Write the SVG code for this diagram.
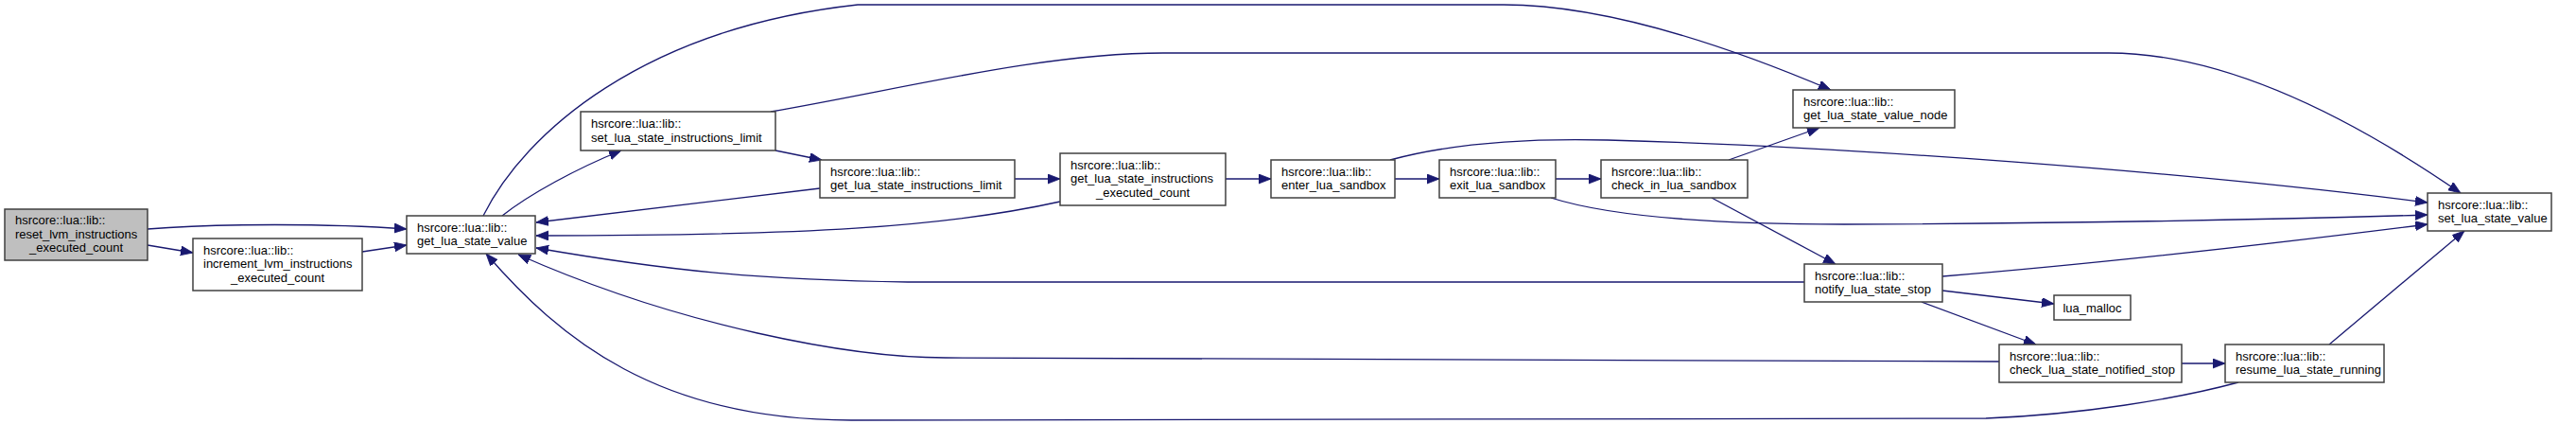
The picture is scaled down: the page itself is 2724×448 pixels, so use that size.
<svg xmlns="http://www.w3.org/2000/svg" width="2724" height="448" viewBox="0 0 2724 448">
<style>
.n{fill:#ffffff;stroke:#404040;stroke-width:1.5}
.g{fill:#bfbfbf}
.t{font-family:"Liberation Sans",Arial,sans-serif;font-size:13px;fill:#000000}
.m{text-anchor:middle}
.e{fill:none;stroke:#191970;stroke-width:1.3}
</style>
<defs>
<marker id="a" markerUnits="userSpaceOnUse" markerWidth="14" markerHeight="11" refX="13" refY="5" orient="auto">
<path d="M0,0 L13,5 L0,10 Z" fill="#191970" stroke="#191970" stroke-width="0.8"/>
</marker>
</defs>
<rect width="2724" height="448" fill="#ffffff"/>
<g id="connectors">
<path class="e" marker-end="url(#a)" d="M156,242 C230,236 350,236 430,242"/>
<path class="e" marker-end="url(#a)" d="M156,259 L204,267"/>
<path class="e" marker-end="url(#a)" d="M383,266 L430,259"/>
<path class="e" marker-end="url(#a)" d="M531,228 C560,205 610,178 657,159"/>
<path class="e" marker-end="url(#a)" d="M511,228 C555,140 680,30 907,5 L1590,5 C1700,5 1830,50 1936,95"/>
<path class="e" marker-end="url(#a)" d="M820,159 L869,169"/>
<path class="e" marker-end="url(#a)" d="M815,118 C950,95 1100,56 1230,56 L2230,56 C2350,56 2480,120 2602,204"/>
<path class="e" marker-end="url(#a)" d="M867,199 L567,235"/>
<path class="e" marker-end="url(#a)" d="M1073,189 L1121,189"/>
<path class="e" marker-end="url(#a)" d="M1121,213 C1000,240 850,249 567,249"/>
<path class="e" marker-end="url(#a)" d="M1296,189 L1344,189"/>
<path class="e" marker-end="url(#a)" d="M1470,169 C1540,150 1620,146 1700,148 C1950,155 2300,180 2567,214"/>
<path class="e" marker-end="url(#a)" d="M1475,189 L1522,189"/>
<path class="e" marker-end="url(#a)" d="M1645,189 L1693,189"/>
<path class="e" marker-end="url(#a)" d="M1640,209 C1700,228 1800,237 1950,237 C2200,236 2400,232 2567,227"/>
<path class="e" marker-end="url(#a)" d="M1828,169 L1924,135"/>
<path class="e" marker-end="url(#a)" d="M1810,209 L1941,279"/>
<path class="e" marker-end="url(#a)" d="M1908,298 L960,298 C800,296 700,285 567,262"/>
<path class="e" marker-end="url(#a)" d="M2054,292 C2200,280 2400,258 2567,237"/>
<path class="e" marker-end="url(#a)" d="M2054,307 L2172,321"/>
<path class="e" marker-end="url(#a)" d="M2032,319 L2153,364"/>
<path class="e" marker-end="url(#a)" d="M2114,382 L1000,378 C900,378 720,345 548,269"/>
<path class="e" marker-end="url(#a)" d="M2307,384 L2353,384"/>
<path class="e" marker-end="url(#a)" d="M2463,364 L2606,244"/>
<path class="e" marker-end="url(#a)" d="M2367,404 C2300,422 2200,438 2100,442 L900,444 C696,444 592,358 514,268"/>
</g>
<g id="reset">
<rect class="n g" x="5" y="221" width="151" height="54"/>
<text class="t" x="16" y="237">hsrcore::lua::lib::</text>
<text class="t" x="16" y="251.5">reset_lvm_instructions</text>
<text class="t m" x="80.5" y="266">_executed_count</text>
</g>
<g id="increment">
<rect class="n" x="204" y="252" width="179" height="55"/>
<text class="t" x="215" y="268.5">hsrcore::lua::lib::</text>
<text class="t" x="215" y="283">increment_lvm_instructions</text>
<text class="t m" x="293.5" y="297.5">_executed_count</text>
</g>
<g id="get_lua_state_value">
<rect class="n" x="430" y="228" width="136" height="40"/>
<text class="t" x="441" y="244.5">hsrcore::lua::lib::</text>
<text class="t" x="441" y="259">get_lua_state_value</text>
</g>
<g id="set_lua_state_instructions_limit">
<rect class="n" x="614" y="118" width="206" height="41"/>
<text class="t" x="625" y="135">hsrcore::lua::lib::</text>
<text class="t" x="625" y="149.5">set_lua_state_instructions_limit</text>
</g>
<g id="get_lua_state_instructions_limit">
<rect class="n" x="867" y="169" width="206" height="40"/>
<text class="t" x="878" y="185.5">hsrcore::lua::lib::</text>
<text class="t" x="878" y="200">get_lua_state_instructions_limit</text>
</g>
<g id="get_lua_state_instructions_executed_count">
<rect class="n" x="1121" y="162" width="175" height="55"/>
<text class="t" x="1132" y="178.5">hsrcore::lua::lib::</text>
<text class="t" x="1132" y="193">get_lua_state_instructions</text>
<text class="t m" x="1208.5" y="207.5">_executed_count</text>
</g>
<g id="enter_lua_sandbox">
<rect class="n" x="1344" y="169" width="131" height="40"/>
<text class="t" x="1355" y="185.5">hsrcore::lua::lib::</text>
<text class="t" x="1355" y="200">enter_lua_sandbox</text>
</g>
<g id="exit_lua_sandbox">
<rect class="n" x="1522" y="169" width="123" height="40"/>
<text class="t" x="1533" y="185.5">hsrcore::lua::lib::</text>
<text class="t" x="1533" y="200">exit_lua_sandbox</text>
</g>
<g id="check_in_lua_sandbox">
<rect class="n" x="1693" y="169" width="155" height="40"/>
<text class="t" x="1704" y="185.5">hsrcore::lua::lib::</text>
<text class="t" x="1704" y="200">check_in_lua_sandbox</text>
</g>
<g id="get_lua_state_value_node">
<rect class="n" x="1896" y="95" width="171" height="40"/>
<text class="t" x="1907" y="111.5">hsrcore::lua::lib::</text>
<text class="t" x="1907" y="126">get_lua_state_value_node</text>
</g>
<g id="notify_lua_state_stop">
<rect class="n" x="1908" y="279" width="146" height="40"/>
<text class="t" x="1919" y="295.5">hsrcore::lua::lib::</text>
<text class="t" x="1919" y="310">notify_lua_state_stop</text>
</g>
<g id="lua_malloc">
<rect class="n" x="2172" y="312" width="81" height="26"/>
<text class="t m" x="2212.5" y="329.5">lua_malloc</text>
</g>
<g id="check_lua_state_notified_stop">
<rect class="n" x="2114" y="364" width="193" height="40"/>
<text class="t" x="2125" y="380.5">hsrcore::lua::lib::</text>
<text class="t" x="2125" y="395">check_lua_state_notified_stop</text>
</g>
<g id="resume_lua_state_running">
<rect class="n" x="2353" y="364" width="168" height="40"/>
<text class="t" x="2364" y="380.5">hsrcore::lua::lib::</text>
<text class="t" x="2364" y="395">resume_lua_state_running</text>
</g>
<g id="set_lua_state_value">
<rect class="n" x="2567" y="204" width="131" height="40"/>
<text class="t" x="2578" y="220.5">hsrcore::lua::lib::</text>
<text class="t" x="2578" y="235">set_lua_state_value</text>
</g>
</svg>
